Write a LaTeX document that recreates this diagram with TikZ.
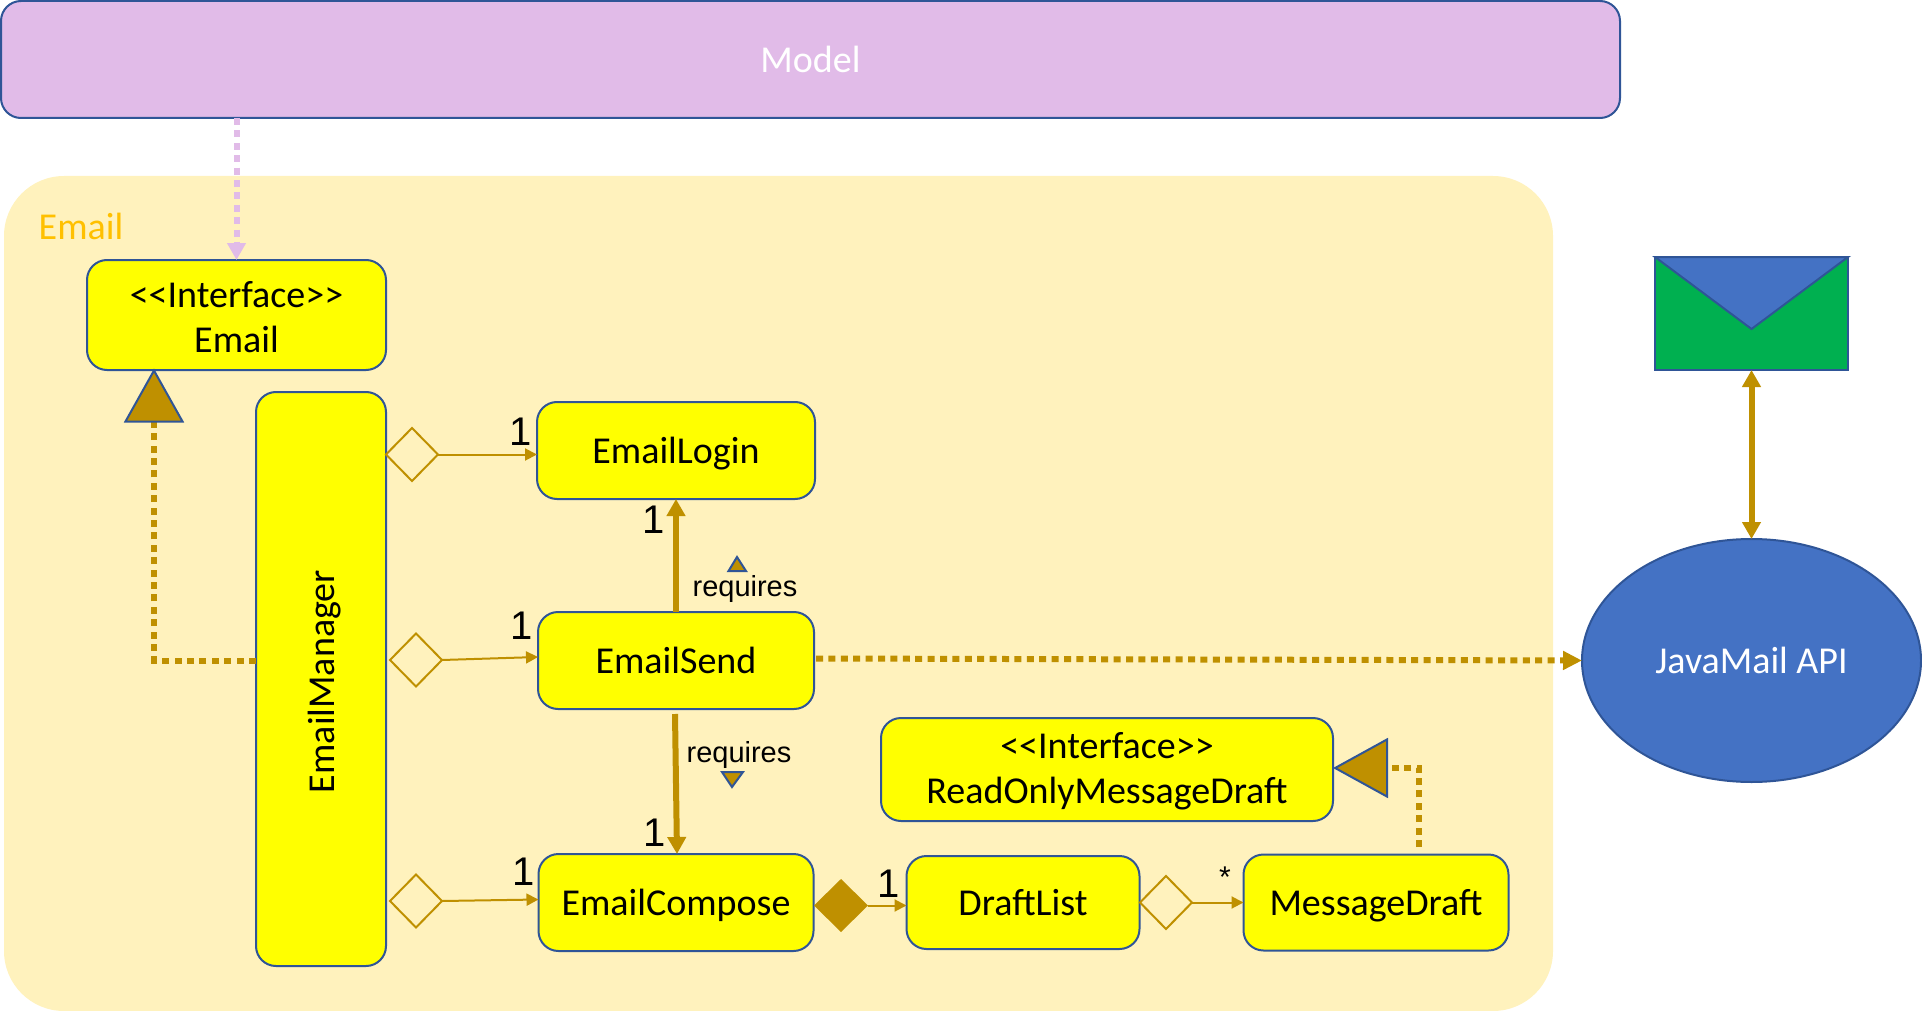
\documentclass[tikz,border=0pt]{standalone}
\usepackage{fontspec}
\setmainfont{Carlito}
\newfontfamily\arialfont{Liberation Sans}
\usetikzlibrary{positioning,arrows.meta,shapes.geometric}
\definecolor{modelpink}{HTML}{E1BBE8}
\definecolor{wellcream}{HTML}{FFF2BD}
\definecolor{labelamber}{HTML}{FFC000}
\definecolor{linegold}{HTML}{BF9000}
\definecolor{rimblue}{HTML}{2F5597}
\definecolor{fillblue}{HTML}{4472C4}
\definecolor{mailgreen}{HTML}{00B050}
\definecolor{classyellow}{HTML}{FFFF00}

\begin{document}
\begin{tikzpicture}[x=1pt,y=-1pt]
	\tikzset{
	    classbox/.style={draw=rimblue, line width=2pt, fill=classyellow, rounded corners=20pt, align=center, outer sep=0pt, inner sep=0pt,
	        font=\fontsize{38}{45}\selectfont},
	    oneline/.style={text height=26.5pt, text depth=0pt},
	    hollowdiamond/.style={diamond, draw=linegold, line width=2pt, inner sep=0pt, outer sep=0pt, minimum width=52pt, minimum height=53pt},
	    thinarrow/.style={draw=linegold, line width=2pt, -{Triangle[length=12pt,width=12pt]}},
	    thickarrow/.style={draw=linegold, line width=6pt, -{Triangle[length=17pt,width=18pt]}},
	    dottedarrow/.style={draw=linegold, line width=6pt, dash pattern=on 7pt off 5.4pt, -{Triangle[length=19pt,width=18pt]}},
	    realizes/.style={draw=linegold, line width=6pt, dash pattern=on 7pt off 5.4pt,
	        -{Triangle[length=#1,width=60pt,color=rimblue,fill=linegold,line width=2pt]}},
	    dirmark/.style={draw=rimblue, line width=2pt, fill=linegold},
	    multlabel/.style={inner sep=0pt, font=\arialfont\fontsize{40}{40}\selectfont},
	    reqlabel/.style={inner sep=0pt, font=\arialfont\fontsize{29}{29}\selectfont}
	}
	\useasboundingbox (0,0) rectangle (1922,1011);

	\node[fill=wellcream, rounded corners=60pt, minimum width=1549pt, minimum height=835pt, inner sep=0pt] (emailWell) at (778.5,593.5) {};
	\node[text=labelamber, font=\fontsize{38}{45}\selectfont, inner sep=0pt] (wellTitle) at (81,226) {Email};

	\node[draw=rimblue, line width=2pt, fill=modelpink, rounded corners=20pt, minimum width=1619pt, minimum height=117pt,
		text=white, font=\fontsize{38}{45}\selectfont, outer sep=0pt] (model) at (810.5,59.5) {Model};

	\node[classbox, minimum width=299pt, minimum height=110pt, text height=75pt] (emailIface) at (236.5,315) {<{}<Interface>{}>\\Email};
	\node[classbox, oneline, minimum width=574pt, minimum height=130pt, rotate=90] (manager) at (321,679) {EmailManager\hspace{5pt}};

	\node[classbox, oneline, minimum width=278pt, minimum height=97pt] (emailLogin) at (676,450.5) {EmailLogin};
	\node[classbox, oneline, minimum width=276pt, minimum height=97pt, below=113pt of emailLogin] (emailSend) {EmailSend};
	\node[classbox, oneline, minimum width=275pt, minimum height=97pt, below=145pt of emailSend] (emailCompose) {EmailCompose};
	\node[classbox, oneline, minimum width=233pt, minimum height=93pt, right=93pt of emailCompose] (draftList) {DraftList};
	\node[classbox, oneline, minimum width=265pt, minimum height=96pt, right=104pt of draftList] (messageDraft) {MessageDraft};
	\node[classbox, minimum width=452pt, minimum height=103pt, text height=75pt] (readOnly) at (1107,769.5) {<{}<Interface>{}>\\ReadOnlyMessageDraft};

	\node[hollowdiamond] (hasLogin) at (412,454.5) {};
	\node[hollowdiamond] (hasSend) at (416,660) {};
	\node[hollowdiamond] (hasCompose) at (416,901) {};
	\node[hollowdiamond] (hasMessage) at (1166,902.5) {};
	\node[diamond, fill=linegold, inner sep=0pt, outer sep=0pt, minimum width=54pt, minimum height=53pt] (ownsDrafts) at (841,905.5) {};

	\node[draw=rimblue, line width=2pt, fill=mailgreen, minimum width=193pt, minimum height=113pt, outer sep=0pt] (mailIcon) at (1751.5,313.5) {};
	\draw[rimblue, line width=2pt, fill=fillblue] (mailIcon.north west) -- (1751.5,329) -- (mailIcon.north east) -- cycle;
	\node[ellipse, draw=rimblue, line width=2pt, fill=fillblue, minimum width=339pt, minimum height=243pt, text=white,
		font=\fontsize{38}{45}\selectfont, outer sep=0pt, inner sep=0pt] (javaMail) at (1751.5,660.5) {JavaMail API};

	% associations
	\draw[thinarrow] (hasLogin.east) -- (hasLogin.east -| emailLogin.west);
	\draw[thinarrow] (hasSend.east) -- ([yshift=3.5pt]emailSend.west);
	\draw[thinarrow] (hasCompose.east) -- ([yshift=3pt]emailCompose.west);
	\draw[thinarrow] (ownsDrafts.east) -- (ownsDrafts.east -| draftList.west);
	\draw[thinarrow] (hasMessage.east) -- (hasMessage.east -| messageDraft.west);

	\draw[thickarrow] (emailSend.north) -- (emailLogin.south);
	\draw[thickarrow] ([xshift=-1pt,yshift=-5pt]emailSend.south) -- ([xshift=1pt]emailCompose.north);

	\draw[dottedarrow] ([xshift=2pt,yshift=2pt]emailSend.east) -- (javaMail.west);
	\draw[draw=linegold, line width=6pt, {Triangle[length=17pt,width=18pt]}-{Triangle[length=17pt,width=18pt]}] (mailIcon.south) -- (javaMail.north);
	\draw[draw=modelpink, line width=6pt, dash pattern=on 7pt off 5.4pt, -{Triangle[length=17pt,width=18pt]}] (model.south -| emailIface.north) -- (emailIface.north);

	% realizations
	\coordinate (ifaceFoot) at (154,368.5);
	\coordinate (readOnlySide) at (1333,768);
	\coordinate (draftTop) at (1419,847);
	\draw[realizes=54pt] (manager.north |- emailSend.west) -| (ifaceFoot);
	\draw[realizes=55pt] (draftTop) |- (readOnlySide);

	\node[multlabel] (oneLogin) at (521,432) {1};
	\node[multlabel] (oneLoginBack) at (654,520) {1};
	\node[multlabel] (oneSend) at (522,626) {1};
	\node[multlabel] (oneCompose) at (655,833) {1};
	\node[multlabel] (oneComposeLeft) at (524,872) {1};
	\node[multlabel] (oneDrafts) at (889,884) {1};
	\node[inner sep=0pt, font=\arialfont\fontsize{30}{30}\selectfont] (manyDrafts) at (1225,877) {*};

	\node[reqlabel] (requiresUp) at (745,589) {requires};
	\node[reqlabel] (requiresDown) at (739,755) {requires};
	\draw[dirmark] (728.5,571) -- (737,557) -- (746,571) -- cycle;
	\draw[dirmark] (722,772) -- (732,787) -- (743,772) -- cycle;
\end{tikzpicture}
\end{document}
